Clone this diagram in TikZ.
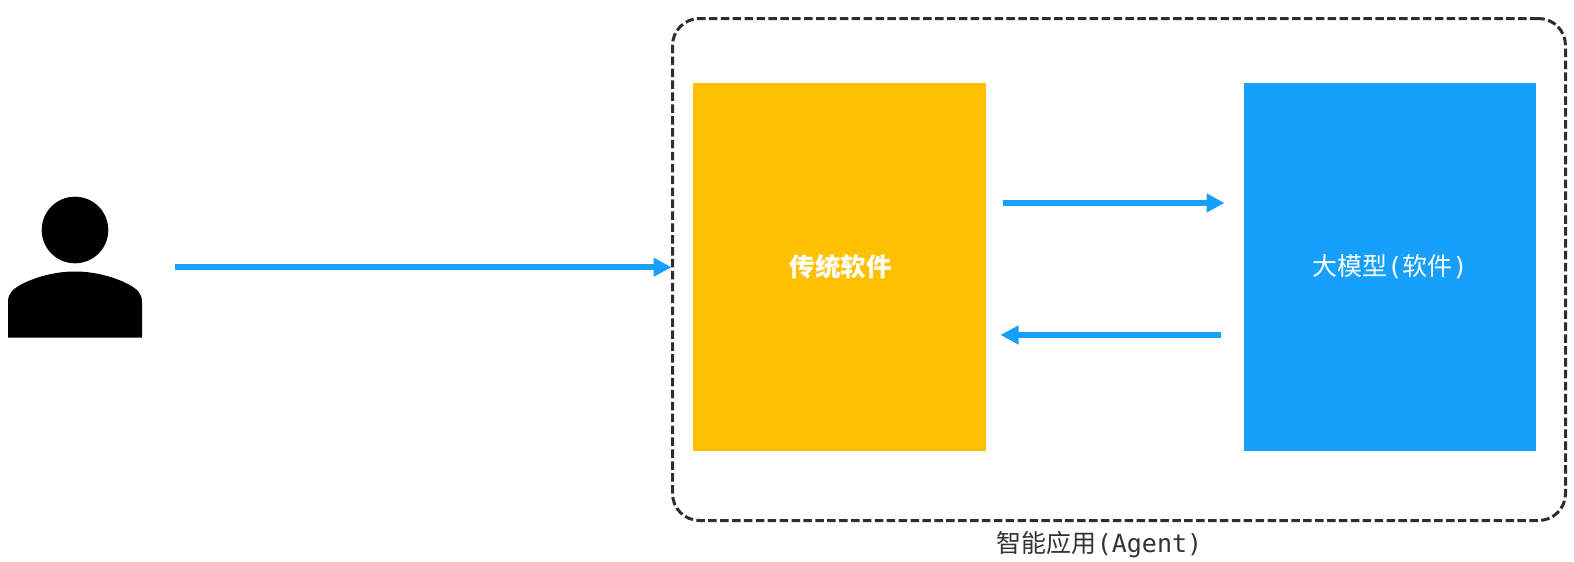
\documentclass[tikz,border=0pt]{standalone}
\usepackage{fontspec}
\usetikzlibrary{arrows.meta}
\newfontfamily\cjk{Noto Sans CJK SC}
\newfontfamily\mono{DejaVu Sans Mono}
\definecolor{flowblue}{HTML}{169FFB}
\definecolor{softyellow}{HTML}{FFC000}
\definecolor{framegray}{HTML}{2E2E2E}
\definecolor{textgray}{HTML}{333333}

\begin{document}
\begin{tikzpicture}[x=1pt, y=-1pt, >={Stealth[inset=0pt, length=18pt, width=18pt]},
    block/.style={minimum width=292pt, minimum height=368pt, inner sep=0pt, outer sep=0pt, text=white},
    flow/.style={->, line width=6pt, flowblue},
    every node/.append style={font=\fontsize{25}{30}\selectfont}]
    \useasboundingbox (0,0) rectangle (1574,562);
    \node[draw=framegray, line width=3pt, rounded corners=27pt, dash pattern=on 8.5pt off 3.4pt,
        minimum width=893pt, minimum height=502pt, inner sep=0pt, outer sep=0pt] (agent) at (1119,269.5) {};
    \node[block, fill=softyellow, minimum width=293pt] (soft) at (839.5,267) {\raisebox{-1pt}{\hspace{2pt}\fontsize{25.5}{30}\selectfont\cjk\bfseries 传统软件}};
    \node[block, fill=flowblue] (model) at (1390,267) {\raisebox{-1pt}{{\cjk 大模型}{\mono (}{\cjk 软件}{\mono )}}};
    \node[text=textgray, inner sep=0pt] (agentlabel) at (1099.5,545) {{\cjk 智能应用}{\mono (Agent)}};
    \node[minimum width=134pt, minimum height=141pt, inner sep=0pt, outer sep=0pt] (user) at (75,267.2) {};
    \fill (75,230) circle (33.3);
    \fill (user.south west) -- (8,302) .. controls (8,293) and (13,289) .. (22,284)
        .. controls (38,276) and (57,271.5) .. (75,271.5)
        .. controls (93,271.5) and (112,276) .. (128,284)
        .. controls (137,289) and (142,293) .. (142,302) -- (user.south east) -- cycle;
    \coordinate (upper) at (0,203);
    \coordinate (lower) at (0,335);
    \draw[flow, shorten <=33pt, shorten >=1pt] (user.east) -- (user.east -| agent.west);
    \draw[flow, shorten <=17pt, shorten >=19.5pt] (soft.east |- upper) -- (model.west |- upper);
    \draw[flow, shorten <=23pt, shorten >=14.5pt] (model.west |- lower) -- (soft.east |- lower);
\end{tikzpicture}
\end{document}
